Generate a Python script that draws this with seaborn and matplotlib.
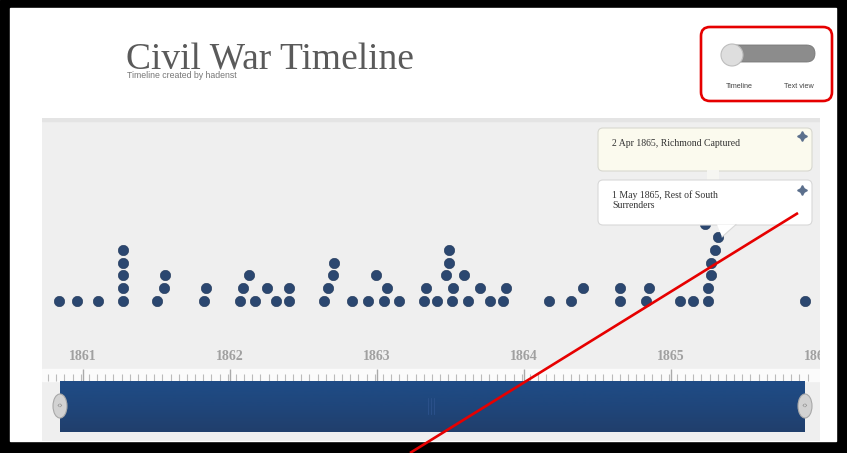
import numpy as np
import pandas as pd
import matplotlib
matplotlib.use("Agg")
import matplotlib.pyplot as plt
import matplotlib.patches as mpatches
import seaborn as sns

# ---------------- data ----------------
years = [1861, 1862, 1863, 1864, 1865, 1866]
year_labels = ["1861", "1862", "1863", "1864", "1865", "1866"]

# event dates (decimal years) and their stack row in the timeline
event_dates = [
    1860.84, 1860.96, 1861.10,
    1861.27, 1861.27, 1861.27, 1861.27, 1861.27,
    1861.50, 1861.55, 1861.56,
    1861.82, 1861.84,
    1862.07, 1862.09, 1862.13, 1862.17,
    1862.25, 1862.31, 1862.40, 1862.40,
    1862.64, 1862.67, 1862.70, 1862.71,
    1862.83, 1862.94, 1862.99, 1863.05, 1863.07, 1863.15,
    1863.32, 1863.33, 1863.41, 1863.47, 1863.49, 1863.49, 1863.51, 1863.52,
    1863.59, 1863.62, 1863.70, 1863.77, 1863.86, 1863.88,
    1864.17, 1864.32, 1864.40,
    1864.65, 1864.65, 1864.83, 1864.85,
    1865.06, 1865.15,
    1865.25, 1865.25, 1865.27, 1865.27, 1865.30, 1865.32, 1865.23,
    1865.91,
]
event_rows = [
    0, 0, 0,
    0, 1, 2, 3, 4,
    0, 1, 2,
    0, 1,
    0, 1, 2, 0,
    1, 0, 0, 1,
    0, 1, 2, 3,
    0, 0, 2, 0, 1, 0,
    0, 1, 0, 2, 3, 4, 0, 1,
    2, 0, 1, 0, 0, 1,
    0, 0, 1,
    0, 1, 0, 1,
    0, 0,
    0, 1, 2, 3, 4, 5, 6,
    0,
]

title = "Civil War Timeline"
subtitle = "Timeline created by hadenst"
tip1 = "2 Apr 1865, Richmond Captured"
tip2 = "1 May 1865, Rest of South\nSurrenders"
toggle_labels = ["Timeline", "Text view"]

df = pd.DataFrame({"date": event_dates, "row": event_rows})

# ---------------- layout helpers (pixel space) ----------------
W, H = 847, 453
X0_PX, YEAR_PX = 83.0, 147.0      # pixel of 1861 and pixels per year
ROW0_PX, ROW_PX = 301.3, 12.9     # pixel of row 0 and pixels per row


def x2yr(px):
    return 1861 + (px - X0_PX) / YEAR_PX


def p2row(py):
    return (ROW0_PX - py) / ROW_PX


sns.set_theme(style="white")
plt.rcParams["font.family"] = ["Liberation Serif", "DejaVu Serif"]

fig = plt.figure(figsize=(W / 100, H / 100), dpi=100)

# background page
ax_bg = fig.add_axes([0, 0, 1, 1])
ax_bg.set_xlim(0, W)
ax_bg.set_ylim(H, 0)
ax_bg.axis("off")
ax_bg.set_zorder(0)
ax_bg.add_patch(mpatches.Rectangle((0, 0), W, H, color="black"))
ax_bg.add_patch(mpatches.Rectangle((10, 8), 826, 433, color="white"))
ax_bg.text(126, 70, title, fontsize=27, color="#5a5a5a", ha="left", va="baseline",
           family=["Liberation Serif"])
ax_bg.text(127, 78, subtitle, fontsize=6.3, color="#777777", ha="left", va="baseline",
           family=["Liberation Sans Narrow", "Liberation Sans"])

# ---------------- timeline panel ----------------
pl, pr, pt, pb = 42, 820, 118, 441
ax = fig.add_axes([pl / W, 1 - pb / H, (pr - pl) / W, (pb - pt) / H])
ax.set_zorder(1)
ax.set_facecolor("#efefef")
ax.set_xlim(x2yr(pl), x2yr(pr))
ax.set_ylim(p2row(pb), p2row(pt))
for s in ax.spines.values():
    s.set_visible(False)
ax.set_xticks([])
ax.set_yticks([])

# top darker strip of panel
ax.axhspan(p2row(121), p2row(118), color="#e4e4e4", zorder=0)

# dots
sns.scatterplot(data=df, x="date", y="row", ax=ax, s=56, color="#2b4770",
                edgecolor="#1f3658", linewidth=0.4, zorder=3, legend=False)
ax.set_xlabel("")
ax.set_ylabel("")

# year labels
for yv, lab in zip(years, year_labels):
    ax.text(yv, p2row(356), lab, ha="center", va="center", fontsize=10,
            color="#a0a0a0", fontweight="bold", clip_on=True, zorder=3)

# ruler strip with ticks
ax.axhspan(p2row(381), p2row(369), xmin=0, xmax=1, color="#fbfbfb", zorder=1)
minor = np.arange(x2yr(48), x2yr(812), 1 / 18)
ax.vlines(minor, p2row(381), p2row(374), color="#bbbbbb", lw=0.8, zorder=2)
ax.vlines(years[:-1], p2row(381), p2row(369), color="#aaaaaa", lw=1.0, zorder=2)

# slider bar with vertical gradient
grad = np.linspace(0, 1, 64).reshape(-1, 1)
cmap = matplotlib.colors.LinearSegmentedColormap.from_list(
    "bar", ["#1f4c86", "#1f467b", "#213f6c"])
ax.imshow(grad, cmap=cmap, aspect="auto", zorder=2,
          extent=[x2yr(60), x2yr(805), p2row(432), p2row(381)], origin="upper")
ax.set_xlim(x2yr(pl), x2yr(pr))
ax.set_ylim(p2row(pb), p2row(pt))

# ---------------- overlay ----------------
ax_top = fig.add_axes([0, 0, 1, 1])
ax_top.set_xlim(0, W)
ax_top.set_ylim(H, 0)
ax_top.axis("off")
ax_top.set_zorder(2)
ax_top.patch.set_alpha(0)

# slider handles
for hx in (60, 805):
    ax_top.add_patch(mpatches.Ellipse((hx, 406), 14, 24, facecolor="#d2d2d2",
                                      edgecolor="#a8a8a8", lw=0.8, zorder=3))
    ax_top.text(hx, 406, "‹›", ha="center", va="center", fontsize=6,
                color="#888888", family=["DejaVu Sans"], zorder=4)
# grip in middle of bar
for gx in (428, 431, 434):
    ax_top.plot([gx, gx], [398, 414], color="#2a5089", lw=0.8, zorder=3)

# tooltip 1
ax_top.add_patch(mpatches.FancyBboxPatch((598, 128), 214, 43,
                 boxstyle="round,pad=0,rounding_size=5", facecolor="#fbfaee",
                 edgecolor="#d8d8d0", lw=0.8, zorder=5))
ax_top.add_patch(mpatches.Rectangle((707, 170), 12, 11, facecolor="#f6f6f2",
                                    edgecolor="none", zorder=5))
ax_top.text(612, 143, tip1, fontsize=7, color="#333333", ha="left", va="center",
            zorder=6)
ax_top.plot([802], [136], marker=(4, 1, 0), markersize=7, color="#5b6f8c", zorder=6)

# tooltip 2
ax_top.add_patch(mpatches.FancyBboxPatch((598, 180), 214, 45,
                 boxstyle="round,pad=0,rounding_size=5", facecolor="white",
                 edgecolor="#d8d8d8", lw=0.8, zorder=5))
ax_top.add_patch(mpatches.Polygon([[717, 224.5], [736, 224.5], [722, 237]],
                                  closed=True, facecolor="white",
                                  edgecolor="none", zorder=5))
ax_top.plot([722, 736], [237, 224.5], color="#d8d8d8", lw=0.8, zorder=5)
ax_top.text(612, 200, tip2, fontsize=7, color="#333333", ha="left", va="center",
            linespacing=1.2, zorder=6)
ax_top.plot([802], [190], marker=(4, 1, 0), markersize=7, color="#5b6f8c", zorder=6)

# toggle switch
ax_top.add_patch(mpatches.FancyBboxPatch((727, 45), 88, 17,
                 boxstyle="round,pad=0,rounding_size=8.5", facecolor="#8c8c8c",
                 edgecolor="#777777", lw=0.6, zorder=3))
ax_top.add_patch(mpatches.Circle((732, 55), 11, facecolor="#dedede",
                                 edgecolor="#bdbdbd", lw=0.8, zorder=4))
ax_top.text(739, 87, toggle_labels[0], fontsize=5.2, color="#444444",
            ha="center", va="center", family=["Liberation Sans Narrow", "Liberation Sans"])
ax_top.text(799, 87, toggle_labels[1], fontsize=5.2, color="#444444",
            ha="center", va="center", family=["Liberation Sans Narrow", "Liberation Sans"])

# red annotation box and line
ax_top.add_patch(mpatches.FancyBboxPatch((701, 27), 131, 74,
                 boxstyle="round,pad=0,rounding_size=9", facecolor="none",
                 edgecolor="#e60000", lw=1.9, zorder=7))
ax_top.plot([798, 410], [213, 453], color="#e60000", lw=1.9,
            solid_capstyle="butt", zorder=7)

fig.savefig("out.png", dpi=100)
